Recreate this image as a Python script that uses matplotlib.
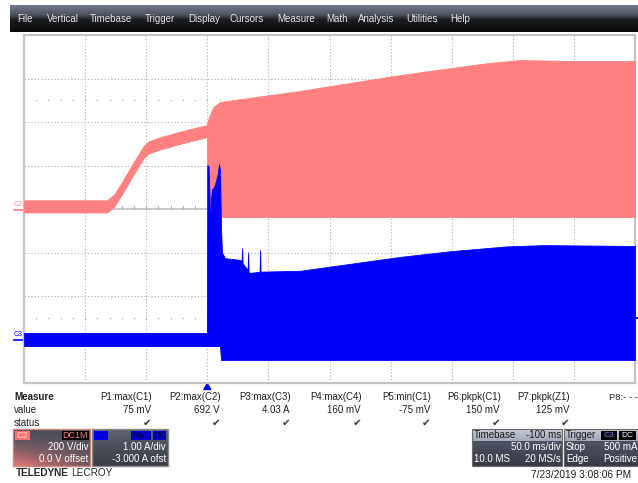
import numpy as np
import matplotlib
matplotlib.use('Agg')
import matplotlib.pyplot as plt
from matplotlib.patches import Rectangle, Polygon
from matplotlib.colors import to_rgb

# C2 (pink, volts) envelope vs time (ms, trigger at 0)
c2_time   = [-150, -82, -76, -69, -60, -52, -48, -39, -22, -3.5, -0.3,
             0, 2, 5, 10.4, 76, 158, 199, 230, 256, 300, 350]
c2_top    = [40, 40, 68, 131, 218, 290, 311, 329, 356, 382, 386,
             400, 432, 469, 492, 543, 616, 648, 671, 685, 680, 680]
c2_bottom = [-16, -16, 12, 75, 162, 234, 255, 273, 300, 326, 330,
             -37, -37, -37, -37, -37, -37, -37, -37, -37, -37, -37]

# C3 (blue, amps) envelope vs time (ms)
c3_time   = [-150, -0.3, 0, 1.0, 1.8, 2.2, 2.6, 3.0, 3.8, 5.5, 7.1, 8.5, 9.6, 10.4,
             11.2, 12.0, 14.5, 26.8, 28.1, 28.5, 28.9, 33.0, 33.4, 33.8, 35.0,
             42.8, 43.2, 43.6, 76, 117, 158, 199, 245, 275, 350]
c3_top    = [0.15, 0.15, 4.0, 4.0, 3.3, 2.6, 2.85, 3.2, 3.45, 3.5, 3.65, 3.8, 4.03, 3.9,
             2.6, 2.0, 1.87, 1.83, 1.8, 2.1, 1.75, 1.6, 2.0, 1.55, 1.53,
             1.56, 2.05, 1.56, 1.58, 1.74, 1.90, 2.03, 2.14, 2.17, 2.15]
c3_bottom = [-0.15, -0.15, -0.15, -0.15, -0.15, -0.15, -0.15, -0.15, -0.15, -0.15, -0.15, -0.15, -0.15, -0.15,
             -0.47, -0.47, -0.47, -0.47, -0.47, -0.47, -0.47, -0.47, -0.47, -0.47, -0.47,
             -0.47, -0.47, -0.47, -0.47, -0.47, -0.47, -0.47, -0.47, -0.47, -0.47]

menu_items = ['File', 'Vertical', 'Timebase', 'Trigger', 'Display', 'Cursors',
              'Measure', 'Math', 'Analysis', 'Utilities', 'Help']
meas_headers = ['P1:max(C1)', 'P2:max(C2)', 'P3:max(C3)', 'P4:max(C4)',
                'P5:min(C1)', 'P6:pkpk(C1)', 'P7:pkpk(Z1)']
meas_values = ['75 mV', '692 V', '4.03 A', '160 mV', '-75 mV', '150 mV', '125 mV']

# ---------------- scope settings ----------------
C2_VDIV, C2_OFS = 200.0, 0.0
C3_ADIV, C3_OFS = 1.0, -3.0
T_DIV = 50.0
T_LEFT = -150.0

PINK = '#ff8080'
BLUE = '#0000ff'
FONT = ['Liberation Sans', 'DejaVu Sans']
plt.rcParams['font.family'] = FONT

W, H = 638, 483
fig = plt.figure(figsize=(W / 100, H / 100), dpi=100)
ov = fig.add_axes([0, 0, 1, 1], zorder=0)
ov.axis('off')
ov.set_xlim(0, W)
ov.set_ylim(H, 0)

def grad_img(x0, y0, x1, y1, stops, horiz=None, z=1):
    n = 40
    f = np.linspace(0, 1, n)
    pos = [s[0] for s in stops]
    cols = np.array([to_rgb(s[1]) for s in stops])
    col = np.stack([np.interp(f, pos, cols[:, k]) for k in range(3)], axis=1)
    img = np.repeat(col[:, None, :], 2, axis=1)
    if horiz is not None:
        img = horiz(f)
    ov.imshow(img, extent=(x0, x1, y1, y0), aspect='auto',
              interpolation='bilinear', zorder=z)

# menu bar
grad_img(10, 5, W, 32, [(0, '#737a8c'), (0.35, '#50545f'), (0.55, '#1c1d20'), (1, '#0a0a0a')])
menu_x = [17, 47, 90, 145, 188, 230, 277, 326, 358, 406, 450]
for name, x in zip(menu_items, menu_x):
    ov.text(x, 18.5, name, color='#e4e4e4', fontsize=7, ha='left', va='center', zorder=3)

# ---------------- main grid / traces ----------------
L, R, T, B = 24, 635, 35, 383
ax = fig.add_axes([L / W, (H - B) / H, (R - L) / W, (B - T) / H], zorder=2)
ax.set_xlim(T_LEFT, T_LEFT + 10 * T_DIV)
ax.set_ylim(-4, 4)
ax.set_xticks([]); ax.set_yticks([])
for s in ax.spines.values():
    s.set_color('#c4c4c4'); s.set_linewidth(1.6)

gcol = '#b8b8b8'
for i in range(1, 10):
    ax.axvline(T_LEFT + i * T_DIV, color=gcol, lw=0.8, ls=(0, (1.2, 1.8)), zorder=1)
for j in range(-3, 4):
    if j == 0:
        ax.axhline(0, color='#c8c8c8', lw=1.4, zorder=1)
    else:
        ax.axhline(j, color=gcol, lw=0.8, ls=(0, (1.2, 1.8)), zorder=1)
# minor ticks on center axis and dot rows
minor_t = np.arange(T_LEFT, T_LEFT + 10 * T_DIV + 0.01, T_DIV / 5)
for t in minor_t:
    ax.plot([t, t], [0, 0.07], color='#b0b0b0', lw=0.8, zorder=1)
    ax.plot([t], [2.5], marker='s', ms=0.9, color='#b0b0b0', mew=0, zorder=1)
    ax.plot([t], [-2.5], marker='s', ms=0.9, color='#b0b0b0', mew=0, zorder=1)

c2t = np.array(c2_time)
ax.fill_between(c2t, np.array(c2_bottom) / C2_VDIV + C2_OFS / C2_VDIV,
                np.array(c2_top) / C2_VDIV + C2_OFS / C2_VDIV,
                color=PINK, lw=0.6, edgecolor=PINK, zorder=3)
c3t = np.array(c3_time)
ax.fill_between(c3t, np.array(c3_bottom) / C3_ADIV + C3_OFS,
                np.array(c3_top) / C3_ADIV + C3_OFS,
                color=BLUE, lw=0.6, edgecolor=BLUE, zorder=4)

# channel markers at left and trigger markers
ov.text(14, 204.5, 'C2', color=PINK, fontsize=5, ha='left', va='center', zorder=3)
ov.plot([14, 24], [209.5, 209.5], color=PINK, lw=1.2, zorder=3)
ov.text(14, 334.5, 'C3', color=BLUE, fontsize=5, ha='left', va='center', zorder=3)
ov.plot([14, 24], [340, 340], color=BLUE, lw=1.2, zorder=3)
xtrig = L + (0 - T_LEFT) / T_DIV * (R - L) / 10
ov.add_patch(Polygon([(xtrig - 3.5, 389.5), (xtrig + 3.5, 389.5), (xtrig, 383.5)],
                     closed=True, color=BLUE, zorder=3))
ov.plot([632, 637], [318, 318], color=BLUE, lw=1.4, zorder=5)

# ---------------- measure table ----------------
fs = 7
ov.text(14, 397, 'Measure', fontsize=fs, fontweight='bold', color='#202020', va='center')
ov.text(14, 410, 'value', fontsize=fs, color='#202020', va='center')
ov.text(14, 422.5, 'status', fontsize=fs, color='#202020', va='center')
col_right = [152, 221, 291, 362, 431, 501, 570]
for hd, vl, xr in zip(meas_headers, meas_values, col_right):
    ov.text(xr, 397, hd, fontsize=fs, color='#202020', ha='right', va='center')
    ov.text(xr - 1, 410, vl, fontsize=fs, color='#202020', ha='right', va='center')
    ov.text(xr - 5, 422.5, '\u2714', fontsize=7.5, color='#3a3a3a', ha='center', va='center',
            family=['DejaVu Sans'])
ov.text(609, 397, 'P8:- - -', fontsize=6.8, color='#202020', ha='left', va='center')

# ---------------- channel descriptor boxes ----------------
def c2_horiz(f):
    xs = np.linspace(0, 1, 60)
    base = np.array(to_rgb('#4b4f5a'))
    pink = np.array(to_rgb('#e87878'))
    w = (f[:, None] ** 1.6) * (1 - 0.75 * xs[None, :])
    return base[None, None, :] * (1 - w[..., None]) + pink[None, None, :] * w[..., None]

grad_img(13, 429, 90, 466, [(0, '#555a66'), (1, '#3c3f48')], horiz=c2_horiz)
ov.add_patch(Rectangle((13, 429), 77, 37, fill=False, ec='#d88080', lw=1.0, zorder=2))
grad_img(92, 429, 168, 466, [(0, '#5e6370'), (0.5, '#4a4e58'), (1, '#3a3d45')])
ov.add_patch(Rectangle((92, 429), 76, 37, fill=False, ec='#8a8a8a', lw=1.0, zorder=2))

def tag(x0, x1, text, fc, tc, y0=430.5, y1=440, fsz=6.5):
    ov.add_patch(Rectangle((x0, y0), x1 - x0, y1 - y0, fc=fc, ec='none', zorder=3))
    ov.text((x0 + x1) / 2, (y0 + y1) / 2 + 0.3, text, color=tc, fontsize=fsz,
            ha='center', va='center', zorder=4)

tag(15, 30, 'C2', '#ff7070', '#ffd0d0')
tag(62, 88.5, 'DC1M', '#000000', '#ff8080')
ov.text(88, 447.5, '200 V/div', color='white', fontsize=7, ha='right', va='center', zorder=4)
ov.text(88.5, 459.5, '0.0 V offset', color='white', fontsize=7, ha='right', va='center', zorder=4)

tag(94, 108, 'C3', '#0000ff', '#000070')
tag(131, 151, 'BwL', '#0000d0', '#000030')
tag(152.5, 166, 'DC', '#0000d0', '#000030')
ov.text(166, 447.5, '1.00 A/div', color='white', fontsize=7, ha='right', va='center', zorder=4)
ov.text(166.5, 459.5, '-3.000 A ofst', color='white', fontsize=7, ha='right', va='center', zorder=4)

# TELEDYNE LECROY
t1 = ov.text(16, 472.5, 'TELEDYNE', fontsize=7.2, fontweight='bold', color='#2a2a2a',
             va='center', ha='left')
rend = fig.canvas.get_renderer()
x_end = t1.get_window_extent(renderer=rend).x1
ov.text(x_end + 2.5, 472.5, 'LECROY', fontsize=7.2, color='#2a2a2a', va='center', ha='left')

# timebase box
grad_img(472, 429, 562, 441, [(0, '#c4c9d3'), (1, '#a2a8b5')])
grad_img(472, 441, 562, 466, [(0, '#4e5362'), (1, '#383b45')])
ov.add_patch(Rectangle((472, 429), 90, 37, fill=False, ec='#6a6a6a', lw=0.8, zorder=2))
ov.text(474, 435, 'Timebase', color='#1a1a1a', fontsize=7, ha='left', va='center', zorder=4)
ov.text(561, 435, '-100 ms', color='#1a1a1a', fontsize=7, ha='right', va='center', zorder=4)
ov.text(561, 447.5, '50.0 ms/div', color='white', fontsize=7, ha='right', va='center', zorder=4)
ov.text(474, 459.5, '10.0 MS', color='white', fontsize=7, ha='left', va='center', zorder=4)
ov.text(561, 459.5, '20 MS/s', color='white', fontsize=7, ha='right', va='center', zorder=4)

# trigger box
grad_img(564, 429, 640, 441, [(0, '#c4c9d3'), (1, '#a2a8b5')])
grad_img(564, 441, 640, 466, [(0, '#4e5362'), (1, '#383b45')])
ov.add_patch(Rectangle((564, 429), 76, 37, fill=False, ec='#6a6a6a', lw=0.8, zorder=2))
ov.text(566, 435, 'Trigger', color='#1a1a1a', fontsize=7, ha='left', va='center', zorder=4)
tag(601, 617, 'C3', '#000000', '#8080ff', y0=430.5, y1=439.5, fsz=6)
tag(618.5, 636, 'DC', '#000000', '#ffffff', y0=430.5, y1=439.5, fsz=6)
ov.text(566, 447.5, 'Stop', color='white', fontsize=7, ha='left', va='center', zorder=4)
ov.text(637, 447.5, '500 mA', color='white', fontsize=7, ha='right', va='center', zorder=4)
ov.text(566, 459.5, 'Edge', color='white', fontsize=7, ha='left', va='center', zorder=4)
ov.text(637, 459.5, 'Positive', color='white', fontsize=7, ha='right', va='center', zorder=4)

ov.text(631, 474.5, '7/23/2019 3:08:06 PM', color='#202020', fontsize=7.3, ha='right', va='center')

ov.set_xlim(0, W)
ov.set_ylim(H, 0)
fig.savefig('out.png', dpi=100)
